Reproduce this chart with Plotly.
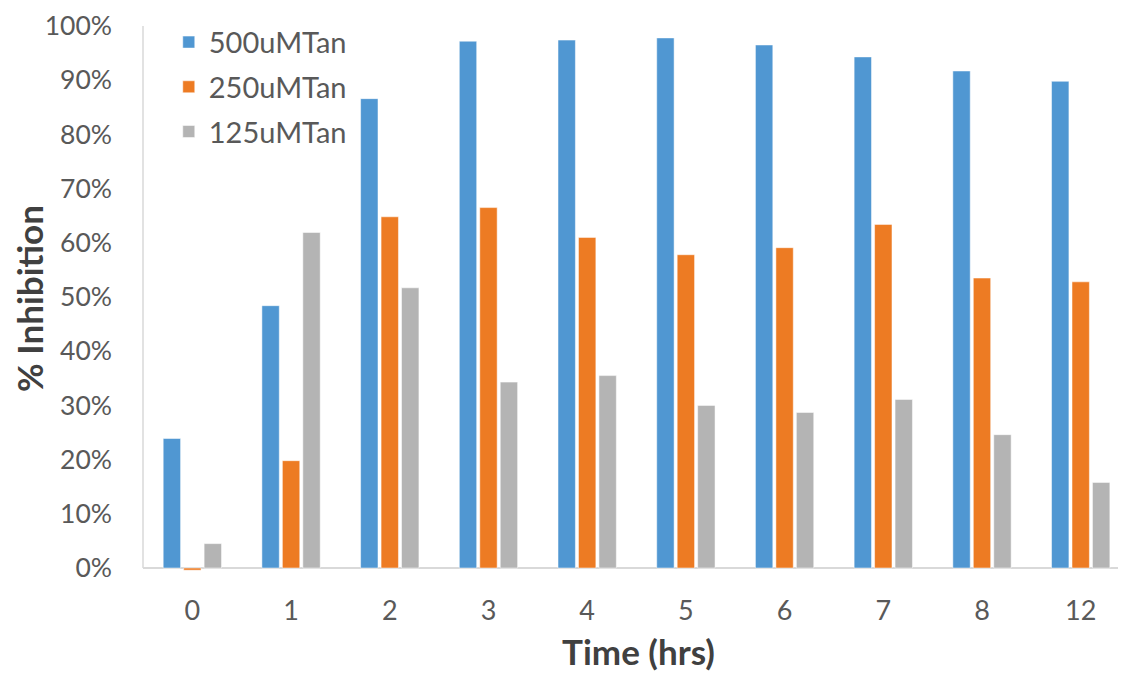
import plotly.graph_objects as go

categories = ["0", "1", "2", "3", "4", "5", "6", "7", "8", "12"]
s500 = [23.9, 48.4, 86.6, 97.2, 97.4, 97.8, 96.5, 94.3, 91.7, 89.8]
s250 = [-0.4, 19.8, 64.8, 66.5, 61.0, 57.8, 59.1, 63.4, 53.5, 52.8]
s125 = [4.5, 61.9, 51.7, 34.3, 35.5, 30.0, 28.7, 31.1, 24.6, 15.8]
names = ["500uMTan", "250uMTan", "125uMTan"]
colors = ["#5097D2", "#ED7B23", "#B4B4B4"]
yticks = [0, 10, 20, 30, 40, 50, 60, 70, 80, 90, 100]
yticklabels = [f"{v}%" for v in yticks]

FONT = "Lato"
fig = go.Figure()
for i, (nm, vals, c) in enumerate(zip(names, [s500, s250, s125], colors)):
    fig.add_trace(go.Bar(
        x=list(range(len(categories))), y=vals, name=nm,
        marker=dict(color=c, line=dict(color="rgba(255,255,255,0.5)", width=1)),
        legendgroup=nm,
    ))

fig.update_layout(
    width=1126, height=673,
    margin=dict(l=135, r=0, t=18, b=110, autoexpand=False),
    paper_bgcolor="white", plot_bgcolor="white",
    barmode="group", bargap=0.378, bargroupgap=0.15,
    font=dict(family=FONT, color="#595959", size=26),
    showlegend=True,
    legend=dict(
        xref="paper", yref="paper", x=0.026, y=1.017,
        xanchor="left", yanchor="top",
        font=dict(family=FONT, size=29, color="#595959"),
        tracegroupgap=4, bgcolor="rgba(0,0,0,0)",
    ),
    xaxis=dict(
        range=[-0.5, 9.54], tickmode="array",
        tickvals=list(range(len(categories))), ticktext=categories,
        showline=False, showgrid=False, zeroline=False,
        ticks="", ticklabelstandoff=21, ticklabeloverflow="allow",
        tickfont=dict(family=FONT, size=27, color="#595959"),
        title=dict(text="<b>Time (hrs)</b>", font=dict(family=FONT, size=35, color="#404040"), standoff=15),
    ),
    yaxis=dict(
        range=[-0.55, 100], tickmode="array", tickvals=yticks, ticktext=yticklabels,
        showgrid=False, zeroline=True, zerolinecolor="#D9D9D9", zerolinewidth=1.5,
        showline=False, ticks="", ticklabelstandoff=30, ticklabeloverflow="allow",
        tickfont=dict(family=FONT, size=26.5, color="#595959"),
        title=dict(text="<b>% Inhibition</b>", font=dict(family=FONT, size=35, color="#404040"), standoff=0),
    ),
    shapes=[dict(type="line", xref="paper", yref="y", x0=0, x1=0, y0=0, y1=100,
                 line=dict(color="#D9D9D9", width=1.5))],
)

fig.write_html("out.html")
